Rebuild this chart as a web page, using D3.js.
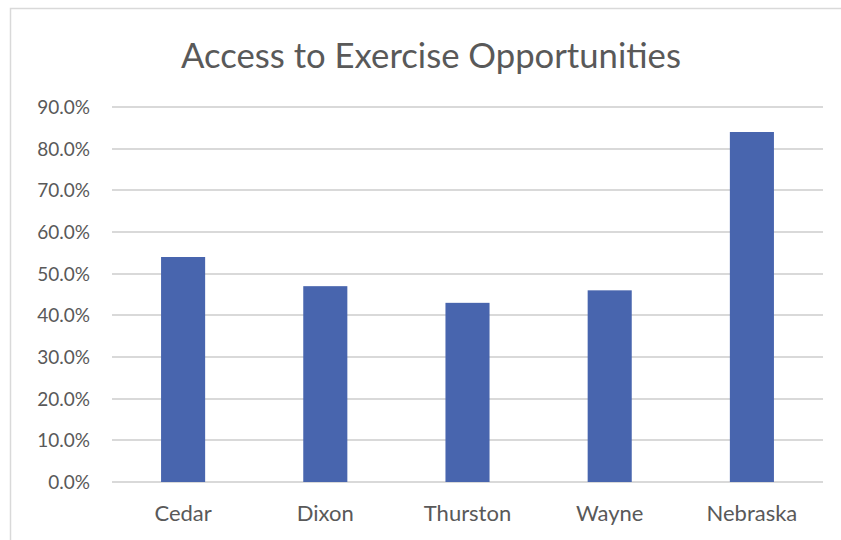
<!DOCTYPE html>
<html><head><meta charset="utf-8">
<script src="https://cdn.jsdelivr.net/npm/d3@7"></script>
<style>html,body{margin:0;padding:0;background:#fff;}svg{display:block;}</style>
</head><body>
<script>
const categories = ["Cedar", "Dixon", "Thurston", "Wayne", "Nebraska"];
const values = [0.54, 0.47, 0.43, 0.46, 0.84];
const yTicks = [0, 0.1, 0.2, 0.3, 0.4, 0.5, 0.6, 0.7, 0.8, 0.9];
const title = "Access to Exercise Opportunities";

const W = 841, H = 540;
const svg = d3.select("body").append("svg").attr("width", W).attr("height", H);
const font = "Lato, 'Open Sans', sans-serif";
const textColor = "#595959";

// frame
svg.append("path")
  .attr("d", `M10.5,${H} L10.5,8.5 L${W},8.5`)
  .attr("fill", "none").attr("stroke", "#d9d9d9").attr("stroke-width", 1.5);

const plot = {left: 112, right: 823, top: 107, bottom: 482};
const x = d3.scaleBand().domain(categories).range([plot.left, plot.right]).paddingInner(0.69).paddingOuter(0.345);
const y = d3.scaleLinear().domain([0, 0.9]).range([plot.bottom, plot.top]);

// grid
svg.append("g").selectAll("line").data(yTicks).join("line")
  .attr("x1", plot.left).attr("x2", plot.right)
  .attr("y1", d => Math.round(y(d))).attr("y2", d => Math.round(y(d)))
  .attr("stroke", "#d9d9d9").attr("stroke-width", 2);

// bars
svg.append("g").selectAll("rect").data(values).join("rect")
  .attr("x", (d, i) => x(categories[i]))
  .attr("width", x.bandwidth())
  .attr("y", d => y(d))
  .attr("height", d => y(0) - y(d))
  .attr("fill", "#4865ae");

// y axis
const yAxis = d3.axisLeft(y).tickValues(yTicks).tickFormat(d3.format(".1%")).tickSize(0).tickPadding(0);
const ga = svg.append("g").attr("transform", `translate(90,0)`).call(yAxis);
ga.select(".domain").remove();
ga.selectAll("text").attr("font-family", font).attr("font-size", 19).attr("fill", textColor).attr("dy", "0.35em");

// x axis
const xAxis = d3.axisBottom(x).tickSize(0).tickPadding(0);
const gx = svg.append("g").attr("transform", `translate(0,521)`).call(xAxis);
gx.select(".domain").remove();
gx.selectAll("text").attr("font-family", font).attr("font-size", 22).attr("fill", textColor).attr("dy", 0);

// title
const t = svg.append("text").attr("x", 431).attr("y", 68)
  .attr("text-anchor", "middle").attr("font-family", font).attr("font-weight", 400)
  .attr("font-size", 37).attr("fill", textColor).text(title);
const tw = t.node().getComputedTextLength();
if (tw > 0) t.attr("font-size", 37 * 500 / tw);
</script>
</body></html>
